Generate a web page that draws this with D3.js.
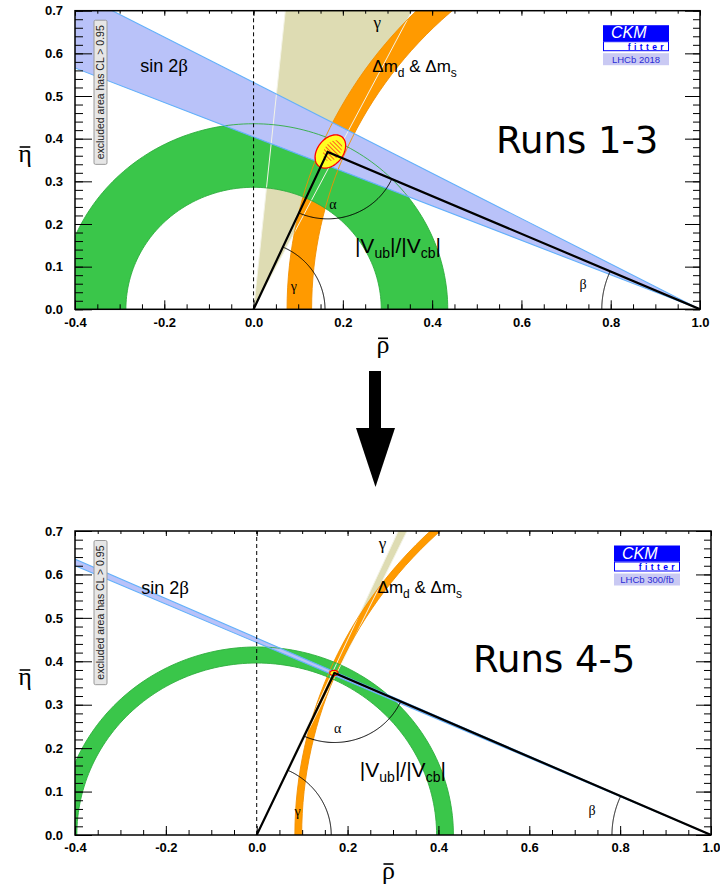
<!DOCTYPE html>
<html>
<head>
<meta charset="utf-8">
<script src="https://cdn.jsdelivr.net/npm/d3@7"></script>
<style>
  body { margin: 0; background: #fff; }
  svg { display: block; }
</style>
</head>
<body>
<script>
// values (top: Runs 1-3, bottom: Runs 4-5)
var runLabels = ["Runs 1-3", "Runs 4-5"];
var logoTags  = ["LHCb 2018", "LHCb 300/fb"];
var apexRho   = [0.166, 0.171];
var apexEta   = [0.369, 0.373];
var sin2bDeg  = [[22.0, 28.0], [23.9, 24.4]];      // sin2beta band, angle seen from (1,0)
var gammaDeg  = [[63.1, 84.2], [64.7, 66.0]];      // gamma wedge from the origin
var vubRadii  = [[0.286, 0.435], [0.396, 0.433]];  // |Vub|/|Vcb| ring around origin
var dmCenter  = [1.065, 1.055];                    // dm_d & dm_s ring centre on rho axis
var dmRadii   = [[0.935, 0.99], [0.956, 0.971]];
var fitOuter  = [[0.172, 0.370, 0.043, 0.029, 55], [0.170, 0.373, 0.009, 0.006, 0]]; // cx, cy, a, b, tilt
var fitInner  = [[0.177, 0.372, 0.027, 0.018, 55], null];
var arcRadii  = [[0.157, 0.16, 0.22], [0.16, 0.164, 0.218]]; // alpha, gamma, beta

var rhoMajor = [-0.4, -0.2, 0.0, 0.2, 0.4, 0.6, 0.8, 1.0];
var etaMajor = [0.0, 0.1, 0.2, 0.3, 0.4, 0.5, 0.6, 0.7];
var rhoMinor = d3.range(-0.4, 1.0001, 0.05);
var etaMinor = d3.range(0, 0.7001, 0.02);

// layout
var W = 720, H = 887;
var frames = [{x0: 75, x1: 700, y0: 10.7, y1: 309.3}, {x0: 75, x1: 711, y0: 531, y1: 835}];
var runsPos = [[0.543, 0.366], [0.476, 0.375]];
var notePos = {sin2b: [-0.254, 0.556], dm: [0.266, 0.557], gband: [0.277, 0.659], vub: [0.227, 0.133],
               alpha: [0.178, 0.235], gamma: [0.09, 0.043], beta: [0.738, 0.047]};

var col = {beige: "#dedcb3", beigeLine: "#f3f3e6", orange: "#ff9a00", orangeLine: "#f29000",
           green: "#3ac64a", greenLine: "#2fae3e", blue: "#b9c2f9", blueLine: "#62b0fa"};
var sans = "'Liberation Sans', Arial, sans-serif";
var serif = "'Liberation Serif', 'Times New Roman', serif";

var svg = d3.select("body").append("svg").attr("width", W).attr("height", H);

var defs = svg.append("defs");
var pat = defs.append("pattern").attr("id", "hatch").attr("patternUnits", "userSpaceOnUse")
  .attr("width", 3).attr("height", 3).attr("patternTransform", "rotate(-45)");
pat.append("line").attr("x1", 0).attr("y1", 0).attr("x2", 0).attr("y2", 3)
  .attr("stroke", "#ff1a1a").attr("stroke-width", 1.4);

function rad(d) { return d * Math.PI / 180; }
function arcPts(cx, cy, r, t0, t1) {
  var n = 120;
  return d3.range(n + 1).map(function(i) {
    var t = t0 + (t1 - t0) * i / n;
    return [cx + r * Math.cos(t), cy + r * Math.sin(t)];
  });
}
function ringPts(cx, r0, r1) {
  return arcPts(cx, 0, r1, 0, Math.PI).concat(arcPts(cx, 0, r0, Math.PI, 0));
}
function wedgePts(px, py, a0, a1) {
  var L = 3;
  return [[px, py], [px + L * Math.cos(rad(a0)), py + L * Math.sin(rad(a0))],
          [px + L * Math.cos(rad(a1)), py + L * Math.sin(rad(a1))]];
}
function ellipsePts(e) {
  var phi = rad(e[4]);
  return d3.range(0, 361, 3).map(function(d) {
    var t = rad(d);
    return [e[0] + e[2] * Math.cos(t) * Math.cos(phi) - e[3] * Math.sin(t) * Math.sin(phi),
            e[1] + e[2] * Math.cos(t) * Math.sin(phi) + e[3] * Math.sin(t) * Math.cos(phi)];
  });
}

function drawPanel(i) {
  var f = frames[i];
  var x = d3.scaleLinear().domain([-0.4, 1.0]).range([f.x0, f.x1]);
  var y = d3.scaleLinear().domain([0, 0.7]).range([f.y1, f.y0]);
  var line = d3.line().x(function(d) { return x(d[0]); }).y(function(d) { return y(d[1]); });

  defs.append("clipPath").attr("id", "clip" + i)
    .append("rect").attr("x", f.x0).attr("y", f.y0).attr("width", f.x1 - f.x0).attr("height", f.y1 - f.y0);

  var g = svg.append("g").attr("clip-path", "url(#clip" + i + ")");

  // filled constraints
  var gw = gammaDeg[i], bw = sin2bDeg[i];
  g.append("path").attr("d", line(wedgePts(0, 0, gw[0], gw[1])) + "Z").attr("fill", col.beige);
  g.append("path").attr("d", line(ringPts(dmCenter[i], dmRadii[i][0], dmRadii[i][1])) + "Z").attr("fill", col.orange);
  g.append("path").attr("d", line(ringPts(0, vubRadii[i][0], vubRadii[i][1])) + "Z").attr("fill", col.green);
  g.append("path").attr("d", line(wedgePts(1, 0, 180 - bw[0], 180 - bw[1])) + "Z").attr("fill", col.blue);

  // contour lines on top
  gw.forEach(function(a) {
    g.append("path").attr("d", line([[0, 0], [3 * Math.cos(rad(a)), 3 * Math.sin(rad(a))]]))
      .attr("stroke", col.beigeLine).attr("stroke-width", 1).attr("fill", "none");
  });
  dmRadii[i].forEach(function(r) {
    g.append("path").attr("d", line(arcPts(dmCenter[i], 0, r, 0, Math.PI)))
      .attr("stroke", col.orangeLine).attr("stroke-width", 0.9).attr("fill", "none");
  });
  vubRadii[i].forEach(function(r) {
    g.append("path").attr("d", line(arcPts(0, 0, r, 0, Math.PI)))
      .attr("stroke", col.greenLine).attr("stroke-width", 0.9).attr("fill", "none");
  });
  bw.forEach(function(a) {
    g.append("path").attr("d", line([[1, 0], [1 + 3 * Math.cos(rad(180 - a)), 3 * Math.sin(rad(180 - a))]]))
      .attr("stroke", col.blueLine).attr("stroke-width", 1.1).attr("fill", "none");
  });

  // fit region
  g.append("path").attr("d", line(ellipsePts(fitOuter[i])) + "Z")
    .attr("fill", "#ffff22").attr("stroke", "#ff0000").attr("stroke-width", i === 0 ? 1.3 : 1.2);
  if (fitInner[i]) {
    g.append("path").attr("d", line(ellipsePts(fitInner[i])) + "Z").attr("fill", "url(#hatch)");
  }

  // rho = 0 dashed line
  g.append("path").attr("d", line([[0, 0], [0, 0.7]]))
    .attr("stroke", "#000").attr("stroke-width", 1).attr("stroke-dasharray", "4,3").attr("fill", "none");

  // unitarity triangle
  var ar = apexRho[i], ae = apexEta[i];
  g.append("path").attr("d", line([[0, 0], [ar, ae], [1, 0]]))
    .attr("stroke", "#000").attr("stroke-width", 2.2).attr("fill", "none").attr("stroke-linejoin", "miter");

  // angle arcs
  var tO = Math.atan2(-ae, -ar), tB = Math.atan2(-ae, 1 - ar);
  var ga = Math.atan2(ae, ar), be = Math.atan2(ae, 1 - ar);
  var arcs = [arcPts(ar, ae, arcRadii[i][0], tO, tB),
              arcPts(0, 0, arcRadii[i][1], 0, ga),
              arcPts(1, 0, arcRadii[i][2], Math.PI - be, Math.PI)];
  arcs.forEach(function(a) {
    g.append("path").attr("d", line(a)).attr("stroke", "#000").attr("stroke-width", 1).attr("fill", "none");
  });

  // labels inside the frame
  function note(p, txt, size, fam, anchor) {
    return svg.append("text").attr("x", x(p[0])).attr("y", y(p[1]))
      .attr("font-family", fam).attr("font-size", size).attr("text-anchor", anchor || "start")
      .attr("fill", "#000").text(txt);
  }
  note(notePos.alpha, "α", 14, serif, "middle");
  note(notePos.gamma, "γ", 14, serif, "middle");
  note(notePos.beta, "β", 14, serif, "middle");
  note(notePos.gband, "γ", 17, serif, "middle");

  var s2 = note(notePos.sin2b, "sin 2", 18, sans);
  s2.append("tspan").attr("font-family", serif).attr("font-size", 19).text("β");

  var dm = note(notePos.dm, "Δm", 17, sans);
  dm.append("tspan").attr("font-size", 12).attr("dy", 5).text("d");
  dm.append("tspan").attr("dy", -5).text(" & Δm");
  dm.append("tspan").attr("font-size", 12).attr("dy", 5).text("s");

  var vb = note(notePos.vub, "|V", 21, sans);
  vb.append("tspan").attr("font-size", 14).attr("dy", 5).text("ub");
  vb.append("tspan").attr("dy", -5).text("|/|V");
  vb.append("tspan").attr("font-size", 14).attr("dy", 5).text("cb");
  vb.append("tspan").attr("dy", -5).text("|");

  note(runsPos[i], runLabels[i], 37, "'DejaVu Sans', sans-serif");

  // axes: ticks inside the frame
  var fmt = function(d) { return d.toFixed(1); };
  function ax(gen, tr, vals, size, pad, labels) {
    var a = gen.tickValues(vals).tickSize(size).tickPadding(pad).tickFormat(labels ? fmt : "");
    var ga = svg.append("g").attr("transform", tr).call(a);
    ga.select(".domain").remove();
    ga.selectAll("line").attr("stroke", "#000").attr("stroke-width", 1);
    ga.selectAll("text").attr("font-family", sans).attr("font-weight", "bold").attr("font-size", 13).attr("fill", "#000");
    return ga;
  }
  ax(d3.axisBottom(x), "translate(0," + f.y1 + ")", rhoMinor, -5, 8, false);
  ax(d3.axisBottom(x), "translate(0," + f.y1 + ")", rhoMajor, -9, 8, true);
  ax(d3.axisTop(x), "translate(0," + f.y0 + ")", rhoMinor, -3, 3, false);
  ax(d3.axisTop(x), "translate(0," + f.y0 + ")", rhoMajor, -5, 3, false);
  ax(d3.axisLeft(y), "translate(" + f.x0 + ",0)", etaMinor, -8, 12, false);
  ax(d3.axisLeft(y), "translate(" + f.x0 + ",0)", etaMajor, -17, 12, true);
  ax(d3.axisRight(y), "translate(" + f.x1 + ",0)", etaMinor, -7, 3, false);
  ax(d3.axisRight(y), "translate(" + f.x1 + ",0)", etaMajor, -15, 3, false);

  svg.append("rect").attr("x", f.x0).attr("y", f.y0).attr("width", f.x1 - f.x0).attr("height", f.y1 - f.y0)
    .attr("fill", "none").attr("stroke", "#000").attr("stroke-width", 1.5);

  // excluded area note
  var ex = svg.append("g").attr("transform", "translate(" + (f.x0 + 25.5) + "," + (f.y0 + 9.5) + ")");
  var exBox = ex.append("rect").attr("fill", "#e6e6e6").attr("stroke", "#9a9a9a").attr("stroke-width", 1).attr("rx", 1.5);
  var exT = ex.append("text").attr("transform", "rotate(-90)").attr("font-family", sans).attr("font-size", 10.5)
    .attr("fill", "#222").attr("text-anchor", "middle").attr("dy", "0.35em").text("excluded area has CL > 0.95");
  var tl = exT.node().getComputedTextLength();
  exT.attr("x", -(tl / 2 + 5));
  exBox.attr("x", -6.5).attr("y", 0).attr("width", 13).attr("height", tl + 10);

  // CKMfitter logo
  var lg = svg.append("g").attr("transform", "translate(" + (f.x1 - 97) + "," + (f.y0 + 14.5) + ")");
  lg.append("rect").attr("width", 66).attr("height", 16).attr("fill", "#0000ff");
  lg.append("text").attr("x", 8).attr("y", 13.2).attr("font-family", sans).attr("font-style", "italic")
    .attr("font-size", 16).attr("fill", "#fff").text("CKM");
  lg.append("rect").attr("x", 0.5).attr("y", 16.5).attr("width", 65).attr("height", 9).attr("fill", "#fff")
    .attr("stroke", "#0000ff").attr("stroke-width", 1);
  lg.append("text").attr("x", 64).attr("y", 24.8).attr("font-family", sans).attr("font-weight", "bold")
    .attr("font-size", 8.5).attr("letter-spacing", 3.4).attr("text-anchor", "end").attr("fill", "#0000ff").text("fitter");
  lg.append("rect").attr("y", 28).attr("width", 66).attr("height", 12).attr("fill", "#c9c9f3");
  lg.append("text").attr("x", 33).attr("y", 37.6).attr("font-family", sans).attr("font-size", 9.5)
    .attr("text-anchor", "middle").attr("fill", "#2b2bd6").text(logoTags[i]);

  // axis titles with overbars
  function barred(tx, ty, ch) {
    var t = svg.append("text").attr("x", tx).attr("y", ty).attr("font-family", serif).attr("font-size", 26)
      .attr("text-anchor", "middle").text(ch);
    var b = t.node().getBBox();
    svg.append("line").attr("x1", b.x + 1.5).attr("x2", b.x + b.width - 1.5)
      .attr("y1", ty - 15).attr("y2", ty - 15).attr("stroke", "#000").attr("stroke-width", 1.6);
  }
  barred(25, (f.y0 + f.y1) / 2 + 2, "η");
  barred(x(0.29), f.y1 + 44, "ρ");
}

drawPanel(0);
drawPanel(1);

// arrow between the panels
svg.append("rect").attr("x", 369).attr("y", 371).attr("width", 12).attr("height", 58).attr("fill", "#000");
svg.append("path").attr("d", "M356,428L395,428L375.5,487Z").attr("fill", "#000");
</script>
</body>
</html>
